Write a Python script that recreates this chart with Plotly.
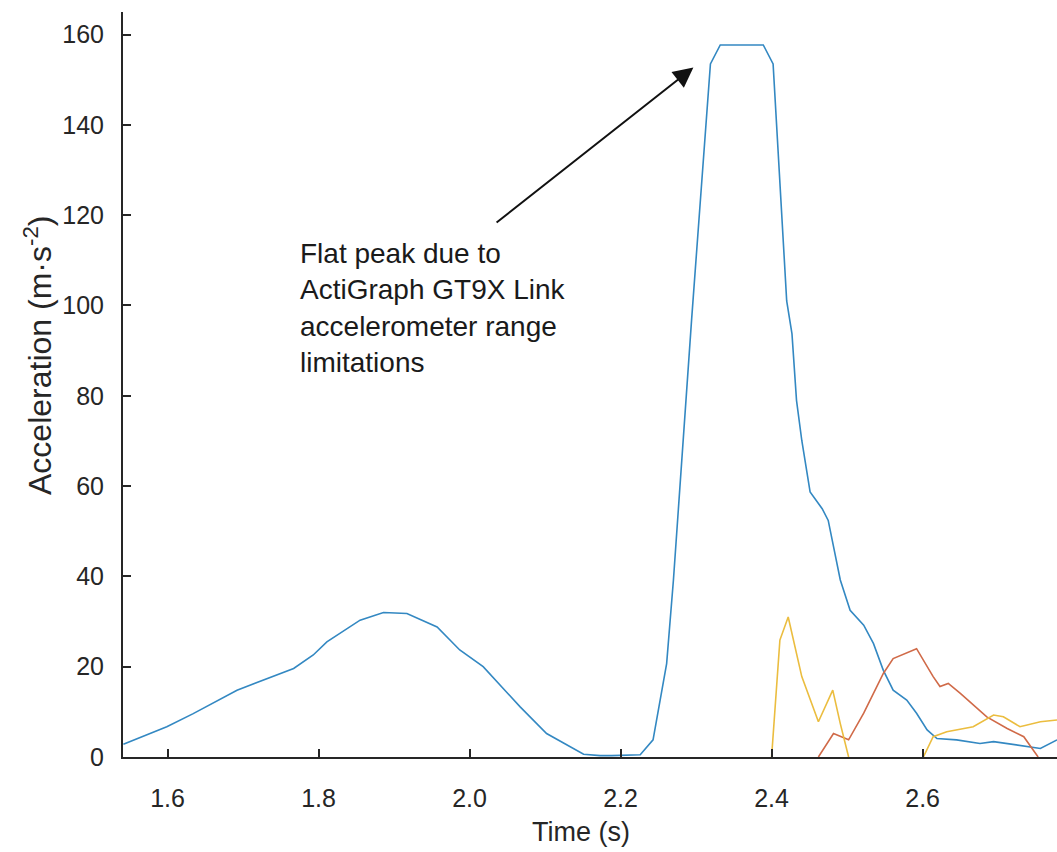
import plotly.graph_objects as go

# ---- data ----
blue_t = [1.5415, 1.599, 1.634, 1.692, 1.767, 1.793, 1.811, 1.855, 1.886, 1.917,
          1.957, 1.987, 2.018, 2.067, 2.102, 2.151, 2.173, 2.188, 2.226, 2.243,
          2.261, 2.270, 2.294, 2.319, 2.332, 2.389, 2.402, 2.420, 2.427, 2.433,
          2.440, 2.447, 2.451, 2.467, 2.475, 2.491, 2.504, 2.522, 2.535, 2.548,
          2.561, 2.579, 2.592, 2.606, 2.619, 2.645, 2.676, 2.694, 2.712, 2.738,
          2.756, 2.778]
blue_v = [2.8, 6.7, 9.6, 14.8, 19.6, 22.6, 25.5, 30.3, 32.0, 31.8,
          28.8, 23.7, 20.0, 11.1, 5.2, 0.6, 0.3, 0.3, 0.5, 3.8,
          20.7, 39.2, 96.7, 153.5, 157.7, 157.7, 153.5, 101.0, 93.7, 79.0,
          70.1, 62.8, 58.7, 55.0, 52.4, 39.2, 32.5, 29.2, 25.1, 19.2,
          14.8, 12.6, 9.7, 6.0, 4.1, 3.8, 3.0, 3.4, 3.0, 2.3,
          1.9, 3.8]

yellow_t = [2.400, 2.411, 2.422, 2.440, 2.462, 2.481, 2.491, 2.502, None,
            2.601, 2.614, 2.632, 2.667, 2.694, 2.707, 2.729, 2.756, 2.778]
yellow_v = [0.0, 25.9, 31.0, 17.8, 7.8, 14.8, 7.4, 0.0, None,
            0.0, 4.5, 5.6, 6.7, 9.3, 8.9, 6.7, 7.8, 8.2]

red_t = [2.462, 2.482, 2.502, 2.522, 2.548, 2.561, 2.592, 2.614, 2.623, 2.634,
         2.650, 2.685, 2.712, 2.734, 2.753]
red_v = [0.0, 5.2, 3.8, 9.7, 18.5, 21.8, 24.0, 17.8, 15.6, 16.3,
         14.1, 8.9, 6.3, 4.5, 0.0]

x_ticks = [1.6, 1.8, 2.0, 2.2, 2.4, 2.6]
x_tick_labels = ["1.6", "1.8", "2.0", "2.2", "2.4", "2.6"]
y_ticks = [0, 20, 40, 60, 80, 100, 120, 140, 160]

x_title = "Time (s)"
y_title = "Acceleration (m·s<sup>-2</sup>)"
note_text = "Flat peak due to<br>ActiGraph GT9X Link<br>accelerometer range<br>limitations"
arrow_tip = (2.2964, 152.7)
arrow_tail = (2.0338, 118.1)
note_pos = (1.7728, 115.5)

# ---- figure ----
FONT = "Liberation Sans, Arial, sans-serif"
AX = "#262626"

fig = go.Figure()
fig.add_trace(go.Scatter(x=blue_t, y=blue_v, mode="lines",
                         line=dict(color="#3388c2", width=1.6), showlegend=False))
fig.add_trace(go.Scatter(x=red_t, y=red_v, mode="lines",
                         line=dict(color="#d06a48", width=1.6), showlegend=False))
fig.add_trace(go.Scatter(x=yellow_t, y=yellow_v, mode="lines", connectgaps=False,
                         line=dict(color="#ebbd3f", width=1.6), showlegend=False))

fig.add_annotation(x=arrow_tip[0], y=arrow_tip[1], ax=arrow_tail[0], ay=arrow_tail[1],
                   xref="x", yref="y", axref="x", ayref="y", text="",
                   showarrow=True, arrowhead=2, arrowsize=2.0, arrowwidth=2,
                   arrowcolor="#111111")
fig.add_annotation(x=note_pos[0], y=note_pos[1], xref="x", yref="y",
                   text=note_text, showarrow=False, align="left",
                   xanchor="left", yanchor="top",
                   font=dict(family=FONT, size=28, color="#1a1a1a"))

# axis titles (placed as in the reference)
fig.add_annotation(x=0.4904, y=-0.1007, xref="paper", yref="paper",
                   text=x_title, showarrow=False, xanchor="center", yanchor="middle",
                   font=dict(family=FONT, size=27, color=AX))
fig.add_annotation(x=-0.091, y=0.5396, xref="paper", yref="paper",
                   text=y_title, showarrow=False, textangle=-90,
                   xanchor="center", yanchor="middle",
                   font=dict(family=FONT, size=32, color=AX))

fig.update_layout(
    width=1057, height=852,
    margin=dict(l=123, r=0, t=12, b=95),
    paper_bgcolor="white", plot_bgcolor="white",
    font=dict(family=FONT, color=AX),
)
fig.update_xaxes(range=[1.541, 2.778], tickvals=x_ticks, ticktext=x_tick_labels,
                 showgrid=False, zeroline=False, showline=True, linecolor=AX,
                 linewidth=2, ticks="inside", ticklen=8, tickwidth=1.5, tickcolor=AX,
                 tickfont=dict(size=25, color=AX), ticklabelstandoff=18,
                 automargin=False)
fig.update_yaxes(range=[0, 165], tickvals=y_ticks,
                 showgrid=False, zeroline=False, showline=True, linecolor=AX,
                 linewidth=2, ticks="inside", ticklen=8, tickwidth=1.5, tickcolor=AX,
                 tickfont=dict(size=25, color=AX), ticklabelstandoff=12,
                 automargin=False)

fig.write_html("out.html")
